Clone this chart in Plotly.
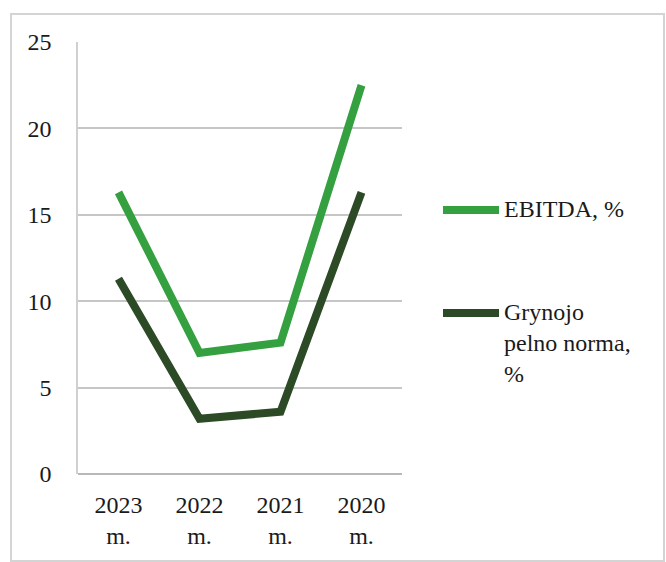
import plotly.graph_objects as go

# Data
years = ["2023<br>m.", "2022<br>m.", "2021<br>m.", "2020<br>m."]
series_names = ["EBITDA, %", "Grynojo<br>pelno norma,<br>%"]
ebitda = [16.3, 7.0, 7.6, 22.5]
net_margin = [11.3, 3.2, 3.6, 16.3]
y_ticks = [0, 5, 10, 15, 20, 25]

colors = ["#35a040", "#2b4a25"]
FONT = dict(family="Times New Roman", size=24)

W, H = 666, 562
L, R, T, B = 78, 264, 42, 88
PW, PH = W - L - R, H - T - B


def px_x(px):
    return (px - L) / PW


def px_y(py):
    return (H - B - py) / PH


fig = go.Figure()
for vals, col in zip([ebitda, net_margin], colors):
    fig.add_trace(go.Scatter(
        x=years, y=vals, mode="lines",
        line=dict(color=col, width=8),
        showlegend=False, hoverinfo="skip",
    ))

# outer frame
fig.add_shape(type="rect", xref="paper", yref="paper",
              x0=px_x(11), x1=px_x(664), y0=px_y(561), y1=px_y(14),
              line=dict(color="#d4d4d4", width=2), layer="below")

# legend entries
legend_rows = [210, 313]
for name, col, ly in zip(series_names, colors, legend_rows):
    fig.add_shape(type="line", xref="paper", yref="paper",
                  x0=px_x(443), x1=px_x(499), y0=px_y(ly), y1=px_y(ly),
                  line=dict(color=col, width=8))
    fig.add_annotation(
        xref="paper", yref="paper", x=px_x(502), y=px_y(ly - 16),
        xanchor="left", yanchor="top", align="left", showarrow=False,
        text=name, font=dict(family="Times New Roman", size=24, color="#1a1a1a"),
    )

fig.update_layout(
    width=W, height=H,
    margin=dict(l=L, r=R, t=T, b=B),
    paper_bgcolor="white", plot_bgcolor="white",
    xaxis=dict(
        range=[-0.5, 3.5],
        showgrid=False, showline=False, zeroline=False,
        ticks="", ticklabelstandoff=14,
        tickfont=dict(family="Times New Roman", size=24, color="#1a1a1a"),
    ),
    yaxis=dict(
        range=[0, 25], tickvals=y_ticks,
        showgrid=True, gridcolor="#c6c6c6", gridwidth=1.5,
        showline=True, linecolor="#d0d0d0", linewidth=1.5,
        zeroline=True, zerolinecolor="#b8b8b8", zerolinewidth=2,
        ticks="", ticklabelstandoff=20,
        tickfont=dict(family="Times New Roman", size=24, color="#1a1a1a"),
    ),
)

fig.write_html("out.html")
